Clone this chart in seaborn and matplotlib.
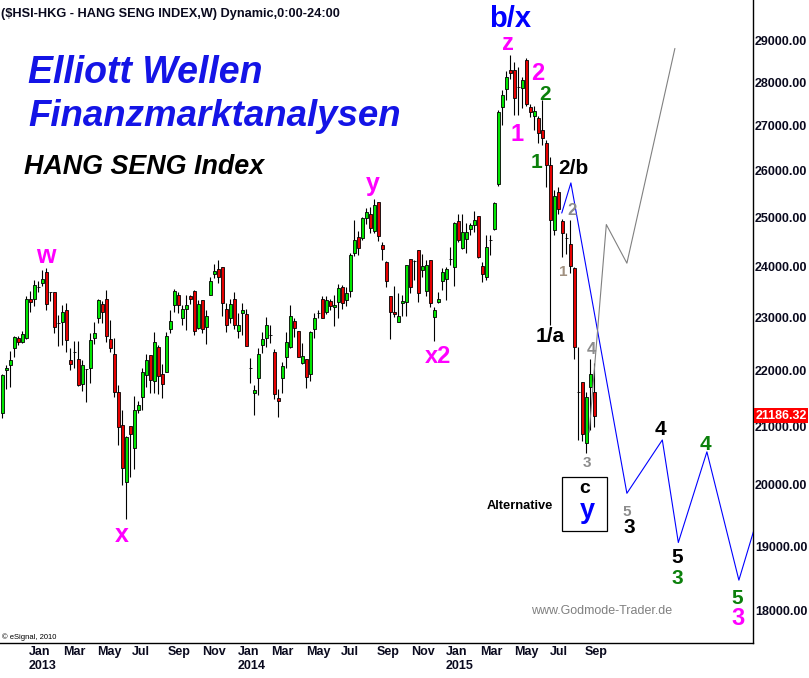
import numpy as np
import pandas as pd
import matplotlib
matplotlib.use("Agg")
import matplotlib.pyplot as plt
import matplotlib.dates as mdates
import matplotlib.transforms as mtransforms
from matplotlib.ticker import NullLocator, NullFormatter
from matplotlib.patches import Rectangle
import seaborn as sns

# Weekly candles, Hang Seng Index
weeks = pd.date_range("2012-11-19", periods=149, freq="7D")

opens = [21230, 22010, 22100, 22420, 22620, 22530, 22620, 23360, 23360, 23600,
         23670, 23890, 23490, 23490, 22890, 22910, 23140, 22200, 22340, 22210,
         21750, 22030, 22060, 22610, 23000, 23260, 23370, 22590, 22310, 21610,
         21020, 20040, 21010, 20620, 21300, 21520, 21920, 22290, 21820, 22440,
         21950, 21970, 22790, 23240, 23430, 22990, 23170, 23420, 23520, 22800,
         23340, 22820, 23430, 23860, 23950, 23990, 23160, 22990, 23370, 22750,
         23080, 23060, 22050, 21590, 21860, 22480, 22610, 22670, 22340, 21500,
         21860, 22260, 22450, 22940, 22740, 22150, 22210, 21950, 22780, 23090,
         23360, 23110, 23320, 23200, 23310, 23600, 23350, 23520, 24280, 24610,
         24580, 24990, 25080, 24730, 25330, 24430, 24090, 23410, 23100, 22910,
         23280, 23310, 24150, 24120, 24330, 23930, 23520, 24130, 23010, 23300,
         23720, 23750, 24150, 24000, 24930, 24380, 24560, 24760, 24860, 25030,
         24010, 23800, 24540, 24770, 25720, 27430, 27830, 28290, 28290, 27880,
         27860, 28520, 27420, 27220, 27170, 26900, 26610, 26130, 24750, 25550,
         24940, 24580, 24460, 23970, 21620, 21800, 20710, 21700, 21620]
highs = [21940, 22110, 22370, 22650, 22650, 22740, 23420, 23520, 23730, 23720,
         23930, 23970, 23490, 23490, 23050, 23240, 23280, 22430, 22560, 22560,
         22200, 22030, 22700, 22910, 23370, 23330, 23540, 22950, 22610, 21740,
         21290, 20840, 21010, 21540, 21460, 22050, 22310, 22290, 22730, 22480,
         22130, 22730, 23150, 23560, 23500, 23250, 23430, 23440, 23540, 23340,
         23350, 23150, 23800, 24050, 24130, 23990, 23280, 23370, 23500, 23080,
         23280, 23160, 22230, 21740, 22420, 22730, 23020, 22860, 22400, 21660,
         22170, 22730, 23240, 22990, 22740, 22510, 22210, 22750, 23080, 23150,
         23410, 23410, 23360, 23430, 23650, 23630, 23590, 24270, 24950, 24730,
         25020, 25200, 25230, 25390, 25330, 24490, 24120, 23410, 23620, 23470,
         23440, 24030, 24150, 24130, 24330, 24250, 24130, 24130, 23200, 23500,
         23980, 24000, 24400, 24920, 25080, 25080, 24890, 24900, 25140, 25030,
         24100, 24640, 24640, 25340, 27360, 27820, 28270, 28640, 28480, 28360,
         28130, 28560, 27490, 27450, 27220, 27590, 26680, 26300, 25590, 25660,
         24970, 24680, 24950, 24000, 22450, 21800, 21620, 22210, 22140]
lows = [21150, 21660, 21710, 22260, 22480, 22510, 22590, 23110, 23220, 23500,
        23620, 23140, 23320, 22700, 22470, 22480, 22340, 22010, 22050, 21730,
        21640, 21440, 21770, 22500, 22890, 22900, 22540, 22340, 21530, 20670,
        19990, 19430, 20140, 20260, 21230, 21300, 21710, 21590, 21590, 21570,
        21500, 21970, 22710, 23110, 23080, 22860, 22760, 23260, 22670, 22790,
        22710, 22490, 23430, 23770, 23670, 23030, 22730, 22890, 22780, 22610,
        22670, 22470, 21770, 21200, 21560, 22330, 22450, 22510, 21480, 21160,
        21600, 22060, 22420, 22630, 22250, 22130, 21690, 21820, 22610, 22990,
        22990, 23070, 23150, 22830, 22990, 23170, 23220, 23390, 24210, 24230,
        24540, 24880, 24680, 24680, 24530, 24130, 23590, 22600, 23020, 22910,
        23030, 23040, 23470, 23730, 23300, 23800, 23410, 23200, 22560, 23290,
        23540, 23350, 24030, 23620, 24490, 24350, 24270, 24640, 24700, 24170,
        23700, 23730, 24230, 24750, 25670, 27020, 27590, 28070, 27240, 27240,
        27400, 27450, 27190, 26900, 26620, 26570, 25660, 22860, 24640, 25090,
        24190, 24260, 23870, 22210, 20770, 20740, 20540, 20940, 20990]
closes = [21920, 22050, 22200, 22630, 22530, 22680, 23360, 23300, 23630, 23600,
          23750, 23260, 23490, 22820, 22890, 23100, 22570, 22130, 22340, 21740,
          22110, 22030, 22570, 22700, 23340, 23110, 22640, 22420, 21610, 20990,
          20280, 20820, 20870, 21290, 21380, 21970, 22200, 21840, 22540, 21900,
          21760, 22650, 22940, 23510, 23240, 23160, 23240, 23370, 22740, 23260,
          22780, 23040, 23710, 23910, 23790, 23280, 22850, 23260, 22850, 22860,
          23150, 22470, 22050, 21650, 22310, 22590, 22850, 22670, 21570, 21460,
          22090, 22530, 23030, 22800, 22250, 22270, 21890, 22720, 22990, 23090,
          22990, 23340, 23230, 23240, 23570, 23280, 23470, 24240, 24550, 24370,
          25000, 25130, 24780, 25270, 24630, 24350, 23710, 23100, 23070, 23040,
          23320, 24030, 23590, 24120, 23470, 24010, 24030, 23280, 23150, 23370,
          23890, 23950, 24150, 24890, 24550, 24700, 24700, 24860, 24950, 24200,
          23850, 24390, 24540, 25320, 27320, 27700, 28110, 28210, 27640, 27880,
          28050, 27490, 27320, 27330, 26830, 26720, 26130, 24950, 25450, 25180,
          24680, 24580, 24020, 22450, 21620, 20860, 21520, 21940, 21186.32]
last_close = 21186.32

# Elliott wave projections
blue_dates = pd.to_datetime(["2015-07-26", "2015-08-11", "2015-11-17", "2016-01-18",
                             "2016-02-15", "2016-04-05", "2016-05-31", "2016-06-26"])
blue_path = [25100, 25740, 19860, 20765, 19060, 20560, 18470, 19250]
gray_dates = pd.to_datetime(["2015-09-12", "2015-10-12", "2015-11-17", "2016-02-09"])
gray_path = [20900, 24860, 24070, 28800]

y_ticks = list(range(18000, 30000, 1000))
x_ticks = pd.date_range("2013-01-01", "2015-09-01", freq="2MS")
x_labels = [d.strftime("%b") + ("\n%d" % d.year if d.month == 1 else "") for d in x_ticks]

sns.set_style("white")
plt.rcParams["font.family"] = ["Liberation Sans", "DejaVu Sans"]

W, H = 809, 678
AX_W, AX_H = 753, 643
fig = plt.figure(figsize=(W / 100, H / 100), dpi=100)
ax = fig.add_axes([0, 1 - AX_H / H, AX_W / W, AX_H / H])
ax.set_yscale("log")

o = np.array(opens)
c = np.array(closes)
up = c >= o
body_colors = np.where(up, "#00e600", "#e60000")

ax.vlines(weeks, lows, highs, color="black", lw=0.8, zorder=2)
ax.bar(weeks, np.abs(c - o), bottom=np.minimum(o, c), width=5.4,
       color=body_colors, edgecolor="black", linewidth=0.6, zorder=3)

sns.lineplot(x=blue_dates, y=blue_path, sort=False, color="#0000ff", lw=0.8, ax=ax, zorder=4)
sns.lineplot(x=gray_dates, y=gray_path, sort=False, color="#808080", lw=0.8, ax=ax, zorder=4)

ax.set_xlim(weeks[0] - pd.Timedelta(days=4.1), weeks[0] + pd.Timedelta(days=1313.7))
ax.set_ylim(17525, 29990)
ax.set_xlabel("")
ax.set_ylabel("")

# axes
for side in ["left", "top"]:
    ax.spines[side].set_visible(False)
for side in ["right", "bottom"]:
    ax.spines[side].set_color("black")
    ax.spines[side].set_linewidth(1.0)

ax.set_yticks(y_ticks)
ax.set_yticklabels(["%.2f" % v for v in y_ticks])
ax.yaxis.set_minor_locator(NullLocator())
ax.yaxis.set_minor_formatter(NullFormatter())
ax.tick_params(axis="y", which="both", left=False, labelleft=False, right=True,
               labelright=True, length=0, pad=1.5, labelsize=9)
ax.set_xticks(mdates.date2num(x_ticks))
ax.set_xticklabels(x_labels, ha="left", ma="left")
ax.tick_params(axis="x", length=0, pad=2, labelsize=9)
shift = mtransforms.ScaledTranslation(2 / 100, 0, fig.dpi_scale_trans)
for lab in ax.get_xticklabels():
    lab.set_transform(lab.get_transform() + shift)
for lab in ax.get_xticklabels() + ax.get_yticklabels():
    lab.set_fontweight("bold")
    lab.set_color("#0a0a1e")

# last price tag
trans = mtransforms.blended_transform_factory(ax.transAxes, ax.transData)
ax.text(1.0 + 2.5 / AX_W, last_close, "%.2f" % last_close, transform=trans, ha="left",
        va="center", color="white", fontsize=9, fontweight="bold", zorder=10,
        bbox=dict(boxstyle="square,pad=0.12", fc="#ff0000", ec="none"))


def label(px, py, s, color, size, ha="center", weight="bold", style="normal"):
    ax.text(px / AX_W, 1 - py / AX_H, s, transform=ax.transAxes, ha=ha, va="baseline",
            color=color, fontsize=size, fontweight=weight, fontstyle=style, zorder=6)


MAG, GRN, GRY = "#ff00ff", "#0b800b", "#8c8c8c"

label(1, 17, "($HSI-HKG - HANG SENG INDEX,W) Dynamic,0:00-24:00", "#0a0a1e", 9.2, ha="left")
label(28, 83, "Elliott Wellen", "#1414e6", 27, ha="left", style="italic")
label(28, 126, "Finanzmarktanalysen", "#1414e6", 26.4, ha="left", style="italic")
label(24, 174, "HANG SENG Index", "black", 19.4, ha="left", style="italic")

label(45.5, 263, "w", MAG, 18)
label(122, 542, "x", MAG, 18)
label(373, 191, "y", MAG, 18)
label(438, 363, "x2", MAG, 17)
label(508, 50, "z", MAG, 17)
label(510, 27, "b/x", "#0000ff", 21)
label(517.5, 141, "1", MAG, 17)
label(538, 80, "2", MAG, 17)
label(545, 100, "2", GRN, 15)
label(537, 168, "1", GRN, 15)
label(573, 174, "2/b", "black", 15)
label(571.5, 215, "2", GRY, 12)
label(563, 276, "1", "#a09080", 11)
label(550, 342, "1/a", "black", 15)
label(591, 354, "4", GRY, 12)
label(587, 467, "3", GRY, 11)

label(520, 509, "Alternative", "black", 9.3)
ax.add_patch(Rectangle((562 / AX_W, 1 - 531 / AX_H), 45 / AX_W, 54 / AX_H, transform=ax.transAxes,
                       fill=False, ec="black", lw=0.9, zorder=6))
label(584.5, 493, "c", "black", 14)
label(587.5, 518, "y", "#0000ff", 19.5)

label(627, 516, "5", GRY, 11)
label(629, 533, "3", "black", 15)
label(660.5, 435, "4", "black", 15)
label(705, 450, "4", GRN, 15)
label(677, 563, "5", "black", 15)
label(677, 584, "3", GRN, 15)
label(737, 604, "5", GRN, 15)
label(738.5, 625, "3", MAG, 17)

label(601.5, 614, "www.Godmode-Trader.de", "#808080", 9, weight="normal")
label(2, 639, "\u00a9 eSignal, 2010", "black", 5.5, ha="left", weight="normal")

fig.savefig("out.png", dpi=100)
